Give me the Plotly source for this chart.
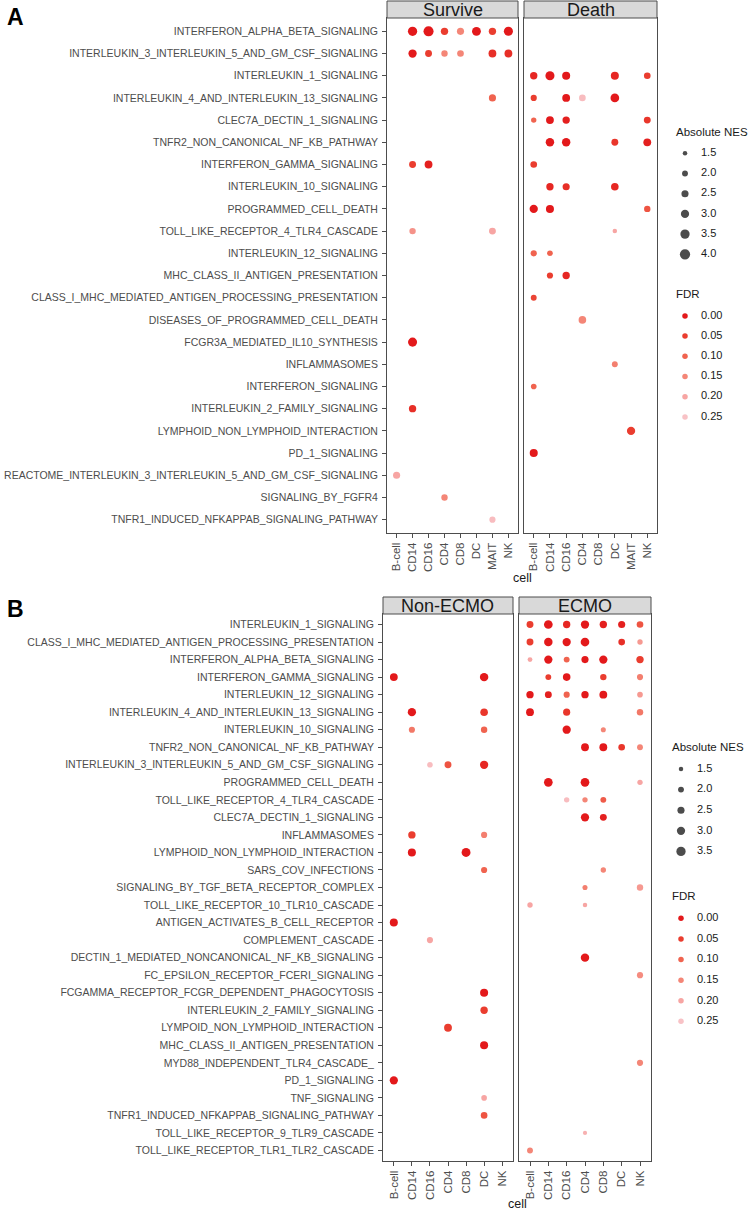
import numpy as np
import plotly.graph_objects as go

W, H = 748, 1212

# ---------------- data ----------------
cells_a = ["B-cell", "CD14", "CD16", "CD4", "CD8", "DC", "MAIT", "NK"]
cells_b = ["B-cell", "CD14", "CD16", "CD4", "CD8", "DC", "NK"]

pathways_a = [
    "INTERFERON_ALPHA_BETA_SIGNALING",
    "INTERLEUKIN_3_INTERLEUKIN_5_AND_GM_CSF_SIGNALING",
    "INTERLEUKIN_1_SIGNALING",
    "INTERLEUKIN_4_AND_INTERLEUKIN_13_SIGNALING",
    "CLEC7A_DECTIN_1_SIGNALING",
    "TNFR2_NON_CANONICAL_NF_KB_PATHWAY",
    "INTERFERON_GAMMA_SIGNALING",
    "INTERLEUKIN_10_SIGNALING",
    "PROGRAMMED_CELL_DEATH",
    "TOLL_LIKE_RECEPTOR_4_TLR4_CASCADE",
    "INTERLEUKIN_12_SIGNALING",
    "MHC_CLASS_II_ANTIGEN_PRESENTATION",
    "CLASS_I_MHC_MEDIATED_ANTIGEN_PROCESSING_PRESENTATION",
    "DISEASES_OF_PROGRAMMED_CELL_DEATH",
    "FCGR3A_MEDIATED_IL10_SYNTHESIS",
    "INFLAMMASOMES",
    "INTERFERON_SIGNALING",
    "INTERLEUKIN_2_FAMILY_SIGNALING",
    "LYMPHOID_NON_LYMPHOID_INTERACTION",
    "PD_1_SIGNALING",
    "REACTOME_INTERLEUKIN_3_INTERLEUKIN_5_AND_GM_CSF_SIGNALING",
    "SIGNALING_BY_FGFR4",
    "TNFR1_INDUCED_NFKAPPAB_SIGNALING_PATHWAY",
]

pathways_b = [
    "INTERLEUKIN_1_SIGNALING",
    "CLASS_I_MHC_MEDIATED_ANTIGEN_PROCESSING_PRESENTATION",
    "INTERFERON_ALPHA_BETA_SIGNALING",
    "INTERFERON_GAMMA_SIGNALING",
    "INTERLEUKIN_12_SIGNALING",
    "INTERLEUKIN_4_AND_INTERLEUKIN_13_SIGNALING",
    "INTERLEUKIN_10_SIGNALING",
    "TNFR2_NON_CANONICAL_NF_KB_PATHWAY",
    "INTERLEUKIN_3_INTERLEUKIN_5_AND_GM_CSF_SIGNALING",
    "PROGRAMMED_CELL_DEATH",
    "TOLL_LIKE_RECEPTOR_4_TLR4_CASCADE",
    "CLEC7A_DECTIN_1_SIGNALING",
    "INFLAMMASOMES",
    "LYMPHOID_NON_LYMPHOID_INTERACTION",
    "SARS_COV_INFECTIONS",
    "SIGNALING_BY_TGF_BETA_RECEPTOR_COMPLEX",
    "TOLL_LIKE_RECEPTOR_10_TLR10_CASCADE",
    "ANTIGEN_ACTIVATES_B_CELL_RECEPTOR",
    "COMPLEMENT_CASCADE",
    "DECTIN_1_MEDIATED_NONCANONICAL_NF_KB_SIGNALING",
    "FC_EPSILON_RECEPTOR_FCERI_SIGNALING",
    "FCGAMMA_RECEPTOR_FCGR_DEPENDENT_PHAGOCYTOSIS",
    "INTERLEUKIN_2_FAMILY_SIGNALING",
    "LYMPOID_NON_LYMPHOID_INTERACTION",
    "MHC_CLASS_II_ANTIGEN_PRESENTATION",
    "MYD88_INDEPENDENT_TLR4_CASCADE_",
    "PD_1_SIGNALING",
    "TNF_SIGNALING",
    "TNFR1_INDUCED_NFKAPPAB_SIGNALING_PATHWAY",
    "TOLL_LIKE_RECEPTOR_9_TLR9_CASCADE",
    "TOLL_LIKE_RECEPTOR_TLR1_TLR2_CASCADE",
]

# panel A - Survive
survive_path = ["INTERFERON_ALPHA_BETA_SIGNALING"] * 7 + \
    ["INTERLEUKIN_3_INTERLEUKIN_5_AND_GM_CSF_SIGNALING"] * 6 + \
    ["INTERLEUKIN_4_AND_INTERLEUKIN_13_SIGNALING",
     "INTERFERON_GAMMA_SIGNALING", "INTERFERON_GAMMA_SIGNALING",
     "TOLL_LIKE_RECEPTOR_4_TLR4_CASCADE", "TOLL_LIKE_RECEPTOR_4_TLR4_CASCADE",
     "FCGR3A_MEDIATED_IL10_SYNTHESIS", "INTERLEUKIN_2_FAMILY_SIGNALING",
     "REACTOME_INTERLEUKIN_3_INTERLEUKIN_5_AND_GM_CSF_SIGNALING",
     "SIGNALING_BY_FGFR4", "TNFR1_INDUCED_NFKAPPAB_SIGNALING_PATHWAY"]
survive_cell = ["CD14", "CD16", "CD4", "CD8", "DC", "MAIT", "NK",
                "CD14", "CD16", "CD4", "CD8", "MAIT", "NK",
                "MAIT", "CD14", "CD16", "CD14", "MAIT", "CD14", "CD14",
                "B-cell", "CD4", "MAIT"]
survive_nes = [3.5, 3.9, 2.6, 2.5, 3.3, 2.6, 3.4,
               3.0, 2.4, 2.2, 2.3, 2.8, 2.8,
               2.5, 2.4, 2.8, 2.2, 2.4, 3.4, 2.6, 2.5, 2.2, 2.1]
survive_fdr = [0.0, 0.0, 0.05, 0.15, 0.0, 0.05, 0.0,
               0.0, 0.05, 0.15, 0.15, 0.03, 0.03,
               0.1, 0.05, 0.01, 0.17, 0.2, 0.0, 0.03, 0.2, 0.15, 0.24]

# panel A - Death
death_path = ["INTERLEUKIN_1_SIGNALING"] * 5 + \
    ["INTERLEUKIN_4_AND_INTERLEUKIN_13_SIGNALING"] * 4 + \
    ["CLEC7A_DECTIN_1_SIGNALING"] * 4 + \
    ["TNFR2_NON_CANONICAL_NF_KB_PATHWAY"] * 4 + \
    ["INTERFERON_GAMMA_SIGNALING"] + \
    ["INTERLEUKIN_10_SIGNALING"] * 3 + \
    ["PROGRAMMED_CELL_DEATH"] * 3 + \
    ["TOLL_LIKE_RECEPTOR_4_TLR4_CASCADE"] + \
    ["INTERLEUKIN_12_SIGNALING"] * 2 + \
    ["MHC_CLASS_II_ANTIGEN_PRESENTATION"] * 2 + \
    ["CLASS_I_MHC_MEDIATED_ANTIGEN_PROCESSING_PRESENTATION",
     "DISEASES_OF_PROGRAMMED_CELL_DEATH", "INFLAMMASOMES",
     "INTERFERON_SIGNALING", "LYMPHOID_NON_LYMPHOID_INTERACTION",
     "PD_1_SIGNALING"]
death_cell = ["B-cell", "CD14", "CD16", "DC", "NK",
              "B-cell", "CD16", "CD4", "DC",
              "B-cell", "CD14", "CD16", "NK",
              "CD14", "CD16", "DC", "NK",
              "B-cell",
              "CD14", "CD16", "DC",
              "B-cell", "CD14", "NK",
              "DC",
              "B-cell", "CD14",
              "CD14", "CD16",
              "B-cell", "CD4", "DC", "B-cell", "MAIT", "B-cell"]
death_nes = [2.6, 3.4, 2.9, 2.9, 2.3,
             2.1, 2.8, 2.3, 3.2,
             1.8, 2.8, 2.6, 2.4,
             3.1, 3.1, 2.4, 2.8,
             2.3,
             2.6, 2.5, 2.7,
             3.0, 2.9, 2.2,
             1.5,
             2.1, 1.9,
             2.1, 2.6,
             2.0, 2.7, 2.0, 1.9, 3.0, 2.9]
death_fdr = [0.02, 0.0, 0.0, 0.02, 0.05,
             0.05, 0.0, 0.24, 0.0,
             0.1, 0.0, 0.01, 0.04,
             0.0, 0.0, 0.04, 0.01,
             0.05,
             0.02, 0.03, 0.02,
             0.0, 0.0, 0.08,
             0.2,
             0.1, 0.1,
             0.05, 0.02,
             0.06, 0.15, 0.14, 0.1, 0.05, 0.0]

# panel B - Non-ECMO
nonecmo_path = ["INTERFERON_GAMMA_SIGNALING"] * 2 + \
    ["INTERLEUKIN_4_AND_INTERLEUKIN_13_SIGNALING"] * 2 + \
    ["INTERLEUKIN_10_SIGNALING"] * 2 + \
    ["INTERLEUKIN_3_INTERLEUKIN_5_AND_GM_CSF_SIGNALING"] * 3 + \
    ["INFLAMMASOMES"] * 2 + \
    ["LYMPHOID_NON_LYMPHOID_INTERACTION"] * 2 + \
    ["SARS_COV_INFECTIONS", "ANTIGEN_ACTIVATES_B_CELL_RECEPTOR",
     "COMPLEMENT_CASCADE", "FCGAMMA_RECEPTOR_FCGR_DEPENDENT_PHAGOCYTOSIS",
     "INTERLEUKIN_2_FAMILY_SIGNALING", "LYMPOID_NON_LYMPHOID_INTERACTION",
     "MHC_CLASS_II_ANTIGEN_PRESENTATION", "PD_1_SIGNALING", "TNF_SIGNALING",
     "TNFR1_INDUCED_NFKAPPAB_SIGNALING_PATHWAY"]
nonecmo_cell = ["B-cell", "DC", "CD14", "DC", "CD14", "DC",
                "CD16", "CD4", "DC", "CD14", "DC", "CD14", "CD8",
                "DC", "B-cell", "CD16", "DC", "DC", "CD4", "DC", "B-cell",
                "DC", "DC"]
nonecmo_nes = [2.8, 3.1, 3.0, 2.7, 2.1, 2.2,
               1.9, 2.4, 3.0, 2.6, 2.1, 2.9, 3.3,
               2.1, 2.9, 2.1, 2.9, 2.6, 2.8, 2.9, 3.0,
               1.9, 2.3]
nonecmo_fdr = [0.0, 0.0, 0.0, 0.04, 0.13, 0.1,
               0.24, 0.08, 0.02, 0.05, 0.14, 0.0, 0.0,
               0.1, 0.0, 0.2, 0.0, 0.05, 0.05, 0.0, 0.0,
               0.2, 0.08]

# panel B - ECMO
ecmo_path = ["INTERLEUKIN_1_SIGNALING"] * 7 + \
    ["CLASS_I_MHC_MEDIATED_ANTIGEN_PROCESSING_PRESENTATION"] * 6 + \
    ["INTERFERON_ALPHA_BETA_SIGNALING"] * 6 + \
    ["INTERFERON_GAMMA_SIGNALING"] * 4 + \
    ["INTERLEUKIN_12_SIGNALING"] * 6 + \
    ["INTERLEUKIN_4_AND_INTERLEUKIN_13_SIGNALING"] * 3 + \
    ["INTERLEUKIN_10_SIGNALING"] * 2 + \
    ["TNFR2_NON_CANONICAL_NF_KB_PATHWAY"] * 4 + \
    ["PROGRAMMED_CELL_DEATH"] * 3 + \
    ["TOLL_LIKE_RECEPTOR_4_TLR4_CASCADE"] * 3 + \
    ["CLEC7A_DECTIN_1_SIGNALING"] * 2 + \
    ["SARS_COV_INFECTIONS"] + \
    ["SIGNALING_BY_TGF_BETA_RECEPTOR_COMPLEX"] * 2 + \
    ["TOLL_LIKE_RECEPTOR_10_TLR10_CASCADE"] * 2 + \
    ["DECTIN_1_MEDIATED_NONCANONICAL_NF_KB_SIGNALING",
     "FC_EPSILON_RECEPTOR_FCERI_SIGNALING", "MYD88_INDEPENDENT_TLR4_CASCADE_",
     "TOLL_LIKE_RECEPTOR_9_TLR9_CASCADE", "TOLL_LIKE_RECEPTOR_TLR1_TLR2_CASCADE"]
ecmo_cell = ["B-cell", "CD14", "CD16", "CD4", "CD8", "DC", "NK",
             "B-cell", "CD14", "CD16", "CD4", "DC", "NK",
             "B-cell", "CD14", "CD16", "CD4", "CD8", "NK",
             "CD14", "CD16", "CD8", "NK",
             "B-cell", "CD14", "CD16", "CD4", "CD8", "NK",
             "B-cell", "CD16", "NK",
             "CD16", "CD8",
             "CD4", "CD8", "DC", "NK",
             "CD14", "CD4", "NK",
             "CD16", "CD4", "CD8",
             "CD4", "CD8",
             "CD8",
             "CD4", "NK",
             "B-cell", "CD4",
             "CD4", "NK", "NK", "CD4", "B-cell"]
ecmo_nes = [2.4, 3.2, 2.6, 3.0, 2.6, 2.5, 2.3,
            2.4, 3.1, 3.0, 3.2, 2.3, 1.8,
            1.6, 3.0, 2.0, 2.5, 3.0, 2.6,
            2.0, 2.7, 2.2, 2.1,
            2.6, 2.4, 2.1, 2.6, 2.8, 1.9,
            2.8, 2.5, 2.2,
            3.0, 1.7,
            2.8, 2.8, 2.3, 2.0,
            3.2, 3.2, 1.8,
            1.8, 1.8, 2.0,
            3.0, 2.4,
            1.8,
            1.7, 2.2,
            1.8, 1.5,
            3.1, 2.1, 2.1, 1.4, 2.0]
ecmo_fdr = [0.05, 0.0, 0.02, 0.0, 0.01, 0.01, 0.08,
            0.05, 0.0, 0.0, 0.0, 0.03, 0.18,
            0.2, 0.0, 0.1, 0.0, 0.0, 0.05,
            0.05, 0.0, 0.05, 0.14,
            0.0, 0.01, 0.1, 0.0, 0.0, 0.18,
            0.0, 0.04, 0.13,
            0.0, 0.15,
            0.0, 0.0, 0.04, 0.15,
            0.0, 0.0, 0.2,
            0.24, 0.15, 0.09,
            0.0, 0.01,
            0.15,
            0.14, 0.18,
            0.2, 0.2,
            0.0, 0.16, 0.15, 0.22, 0.15]

nes_breaks_a = [1.5, 2.0, 2.5, 3.0, 3.5, 4.0]
nes_breaks_b = [1.5, 2.0, 2.5, 3.0, 3.5]
fdr_breaks = [0.00, 0.05, 0.10, 0.15, 0.20, 0.25]

# ---------------- style ----------------
FONT = "Liberation Sans, Arial, sans-serif"
GREY30 = "#4D4D4D"
FDR_SCALE = [[0.0, "#E3191B"], [0.2, "#EA3D2F"], [0.4, "#F0634F"],
             [0.6, "#F48677"], [0.8, "#F7A5A3"], [1.0, "#F8C2C6"]]


def dot_size(v):
    # area-type scale: diameter linear in sqrt(value)
    return 4.5 + 7.4 * (np.sqrt(np.asarray(v, dtype=float)) - np.sqrt(1.5))


def px(x):
    return x / W


def py(y):
    return 1 - y / H


fig = go.Figure()


def add_dots(path, cell, nes, fdr, xa, ya):
    fig.add_trace(go.Scatter(
        x=cell, y=path, mode="markers", xaxis=xa, yaxis=ya,
        marker=dict(size=dot_size(nes), color=fdr, colorscale=FDR_SCALE,
                    cmin=0, cmax=0.25, line=dict(width=0), opacity=1),
        showlegend=False,
        hovertemplate="%{y}<br>%{x}<extra></extra>",
    ))


add_dots(survive_path, survive_cell, survive_nes, survive_fdr, "x", "y")
add_dots(death_path, death_cell, death_nes, death_fdr, "x2", "y2")
add_dots(nonecmo_path, nonecmo_cell, nonecmo_nes, nonecmo_fdr, "x3", "y3")
add_dots(ecmo_path, ecmo_cell, ecmo_nes, ecmo_fdr, "x4", "y4")

# facet panels: (x axis, y axis, x0, x1, top, bottom, strip top, cells, pathways, label)
panels = [
    ("x", "y", 387, 518, 18, 533, 1, cells_a, pathways_a, "Survive", True),
    ("x2", "y2", 524, 657, 18, 533, 1, cells_a, pathways_a, "Death", False),
    ("x3", "y3", 383, 513, 614, 1161, 597, cells_b, pathways_b, "Non-ECMO", True),
    ("x4", "y4", 519, 651, 614, 1161, 597, cells_b, pathways_b, "ECMO", False),
]

layout = dict(
    width=W, height=H, margin=dict(l=0, r=0, t=0, b=0),
    paper_bgcolor="white", plot_bgcolor="white",
    font=dict(family=FONT, color=GREY30), showlegend=False,
)
shapes, annotations = [], []

for xa, ya, x0, x1, top, bot, stop, cells, paths, strip, first in panels:
    xk = "xaxis" + xa[1:]
    yk = "yaxis" + ya[1:]
    layout[xk] = dict(
        domain=[px(x0), px(x1)], anchor=ya, type="category",
        categoryorder="array", categoryarray=cells,
        range=[-0.6, len(cells) - 0.4], showgrid=False, zeroline=False,
        showline=True, mirror=True, linecolor=GREY30, linewidth=1,
        ticks="outside", ticklen=4, tickcolor=GREY30, tickangle=-90,
        tickfont=dict(size=11.5, color=GREY30, family=FONT), fixedrange=True,
        automargin=False,
    )
    layout[yk] = dict(
        domain=[py(bot), py(top)], anchor=xa, type="category",
        categoryorder="array", categoryarray=paths,
        range=[len(paths) - 0.4, -0.6], showgrid=False, zeroline=False,
        showline=True, mirror=True, linecolor=GREY30, linewidth=1,
        ticks="outside" if first else "", ticklen=4, tickcolor=GREY30,
        showticklabels=first, ticklabelstandoff=2,
        tickfont=dict(size=10.5, color=GREY30, family=FONT), fixedrange=True,
        automargin=False,
    )
    shapes.append(dict(type="rect", xref="paper", yref="paper",
                       x0=px(x0), x1=px(x1), y0=py(top), y1=py(stop),
                       fillcolor="#D9D9D9", line=dict(color=GREY30, width=1)))
    annotations.append(dict(text=strip, xref="paper", yref="paper",
                            x=px((x0 + x1) / 2), y=py((top + stop) / 2 + 0.5),
                            xanchor="center", yanchor="middle", showarrow=False,
                            font=dict(size=18, color="#1A1A1A", family=FONT)))

# x axis titles and panel letters
for xc, yc in [((387 + 657) / 2, 578), ((383 + 651) / 2, 1204)]:
    annotations.append(dict(text="cell", xref="paper", yref="paper",
                            x=px(xc), y=py(yc), xanchor="center", yanchor="middle",
                            showarrow=False, font=dict(size=12.5, color="#1A1A1A")))
for letter, yc in [("A", 17), ("B", 609)]:
    annotations.append(dict(text="<b>%s</b>" % letter, xref="paper", yref="paper",
                            x=px(5), y=py(yc), xanchor="left", yanchor="middle",
                            showarrow=False, font=dict(size=23, color="black",
                                                       family=FONT)))

# ---------------- legends ----------------
# (x axis, y axis, pixel top/bottom of area, first key pixel, key step, gap,
#  title x, key x, label x, size breaks)
legends = [
    ("x5", "y5", 110, 440, 153.3, 20.2, 3.05, 674, 685, 701, nes_breaks_a),
    ("x6", "y6", 720, 1040, 769, 20.6, 3.25, 670, 681, 697, nes_breaks_b),
]
for xa, ya, ltop, lbot, first_key, step, gap, tx, kx, lx, breaks in legends:
    lo = -(first_key - ltop) / step
    hi = (lbot - first_key) / step
    layout["xaxis" + xa[1:]] = dict(domain=[px(660), 1], range=[660, 748],
                                   anchor=ya, visible=False, fixedrange=True)
    layout["yaxis" + ya[1:]] = dict(domain=[py(lbot), py(ltop)], range=[hi, lo],
                                   anchor=xa, visible=False, fixedrange=True)
    size_pos = list(range(len(breaks)))
    fdr_pos = [len(breaks) - 1 + gap + i for i in range(len(fdr_breaks))]
    fig.add_trace(go.Scatter(
        x=[kx] * len(breaks), y=size_pos, mode="markers", xaxis=xa, yaxis=ya,
        marker=dict(size=dot_size(breaks), color="black", line=dict(width=0)),
        showlegend=False, hoverinfo="skip"))
    fig.add_trace(go.Scatter(
        x=[lx] * len(breaks), y=size_pos, mode="text", xaxis=xa, yaxis=ya,
        text=["%.1f" % b for b in breaks], textposition="middle right",
        textfont=dict(size=11, color="#1A1A1A", family=FONT),
        showlegend=False, hoverinfo="skip"))
    fig.add_trace(go.Scatter(
        x=[kx] * len(fdr_breaks), y=fdr_pos, mode="markers", xaxis=xa, yaxis=ya,
        marker=dict(size=5.5, color=fdr_breaks, colorscale=FDR_SCALE,
                    cmin=0, cmax=0.25, line=dict(width=0)),
        showlegend=False, hoverinfo="skip"))
    fig.add_trace(go.Scatter(
        x=[lx] * len(fdr_breaks), y=fdr_pos, mode="text", xaxis=xa, yaxis=ya,
        text=["%.2f" % b for b in fdr_breaks], textposition="middle right",
        textfont=dict(size=11, color="#1A1A1A", family=FONT),
        showlegend=False, hoverinfo="skip"))
    for title, ty in [("Absolute NES", -1.07), ("FDR", fdr_pos[0] - 1.07)]:
        annotations.append(dict(text=title, xref=xa, yref=ya, x=tx, y=ty,
                                xanchor="left", yanchor="middle", showarrow=False,
                                font=dict(size=11.5, color="#1A1A1A", family=FONT)))

layout["shapes"] = shapes
layout["annotations"] = annotations
fig.update_layout(**layout)

# the page body has a default 8px margin; remove it so the figure sits at 0,0
fig.write_html("out.html", config={"displayModeBar": False},
               post_script="document.body.style.margin='0px';")
